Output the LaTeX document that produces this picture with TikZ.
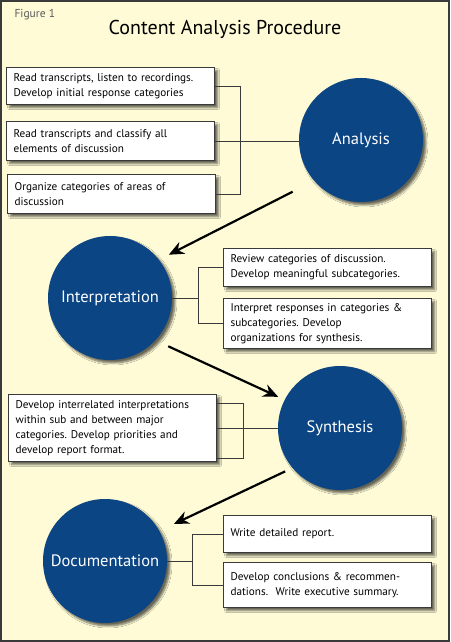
\documentclass[tikz,border=0pt]{standalone}
\usepackage{fontspec}
\setmainfont{PT Sans}
\frenchspacing
\usetikzlibrary{arrows.meta, positioning, shadows.blur, calc}
\definecolor{cream}{HTML}{FEFBD6}
\definecolor{navy}{HTML}{0B4584}
\definecolor{framegray}{HTML}{3A3A3A}

\begin{document}
\begin{tikzpicture}[x=1pt,y=1pt,
    phase/.style={circle,fill=navy,minimum size=124pt,inner sep=0pt,text=white,font=\fontsize{16.5}{20}\selectfont,
      blur shadow={shadow xshift=3pt,shadow yshift=-3pt,shadow blur steps=6,shadow opacity=60}},
    task/.style={draw=framegray,line width=1.2pt,fill=white,anchor=north west,text width=194pt,inner xsep=7pt,inner ysep=3pt,
      align=left,font=\fontsize{11.2}{15}\selectfont,
      blur shadow={shadow xshift=3pt,shadow yshift=-3pt,shadow blur steps=5,shadow opacity=60}},
    link/.style={draw=framegray,line width=0.9pt},
    flow/.style={line width=2.2pt,-{Stealth[length=15pt,width=13pt]}}
  ]
    \useasboundingbox (0,0) rectangle (450,642);
    \draw[line width=2pt,draw=framegray,fill=cream] (1,1) rectangle (449,641);

    \node[anchor=west,text=black!65,font=\fontsize{11.5}{13}\selectfont] (fig) at (11,627) {Figure 1};
    \node[font=\fontsize{20}{24}\selectfont] (title) at (225,613) {Content Analysis Procedure};

    \node[phase] (analysis) at (361,502) {Analysis};
    \node[phase] (interpretation) at (110,344) {Interpretation};
    \node[phase] (synthesis) at (340,214) {Synthesis};
    \node[phase] (documentation) at (105,81) {Documentation};

    \node[task,minimum height=37pt] (readrec) at (6,575) {Read transcripts, listen to recordings.\\Develop initial response categories};
    \node[task,minimum height=39pt] (classify) at (6,521) {Read transcripts and classify all\\elements of discussion};
    \node[task,minimum height=39pt] (organize) at (7,468) {Organize categories of areas of\\discussion};

    \node[task,minimum height=38pt] (review) at (223,394) {Review categories of discussion.\\Develop meaningful subcategories.};
    \node[task,minimum height=50pt] (interpret) at (223,344) {Interpret responses in categories \&\\subcategories. Develop\\organizations for synthesis.};

    \node[task,minimum height=67pt] (interrel) at (8,248) {Develop interrelated interpretations\\within sub and between major\\categories. Develop priorities and\\develop report format.};

    \node[task,minimum height=37pt] (report) at (223,127) {Write detailed report.};
    \node[task,minimum height=45pt] (conclude) at (223,80) {Develop conclusions \& recommen-\\dations.\ \ Write executive summary.};

    % brackets
    \coordinate (ja) at ($(classify.east)+(25,0)$);
    \draw[link] (readrec.east) -| (ja) |- (organize.east);
    \draw[link] (classify.east) -- (classify.east -| analysis.west);

    \coordinate (jb) at ($(interpretation.east)+(26,0)$);
    \draw[link] (review.west) -| (jb) |- (interpret.west);
    \draw[link] (interpretation.east) -- (jb);

    \coordinate (jc) at ($(interrel.east)+(26,0)$);
    \draw[link] ([yshift=-9pt]interrel.north east) -| (jc) |- ([yshift=4pt]interrel.south east);
    \draw[link] (interrel.east) -- (interrel.east -| synthesis.west);

    \coordinate (jd) at ($(documentation.east)+(25,0)$);
    \draw[link] (report.west) -| (jd) |- (conclude.west);
    \draw[link] (documentation.east) -- (jd);

    % flow between phases
    \draw[flow,shorten <=24pt,shorten >=11pt] (analysis.221) -- (interpretation.38);
    \draw[flow,shorten <=14pt,shorten >=7pt] (interpretation.-43) -- (synthesis.153);
    \draw[flow,shorten <=8pt,shorten >=16pt] (synthesis.220) -- (documentation.29);
\end{tikzpicture}
\end{document}
